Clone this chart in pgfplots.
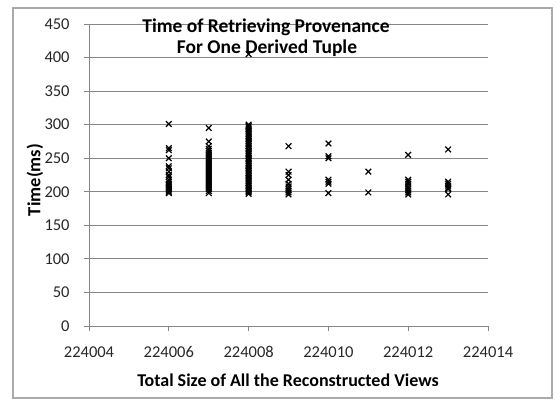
\documentclass[border=0pt]{standalone}
\usepackage{fontspec}
\setmainfont{Carlito}
\usepackage{pgfplots}
\pgfplotsset{compat=1.18}
\definecolor{gridgray}{RGB}{134,134,134}
\definecolor{framegray}{RGB}{170,170,170}

\begin{document}
\begin{tikzpicture}[x=1pt,y=1pt]
\path[use as bounding box] (0,0) rectangle (560,401);
\draw[framegray, line width=1.2pt] (13,3) rectangle (552,393);

\begin{axis}[
  at={(89pt,75pt)}, anchor=south west,
  scale only axis, width=399pt, height=302pt,
  xmin=224004, xmax=224014, ymin=0, ymax=450,
  xtick={224004,224006,224008,224010,224012,224014},
  ytick={0,50,...,450},
  scaled x ticks=false,
  xticklabel style={/pgf/number format/fixed, /pgf/number format/1000 sep={}, yshift=-12pt},
  yticklabel style={xshift=-11pt},
  /pgf/number format/assume math mode=true,
  ticklabel style={font=\fontsize{16.5}{19}\selectfont, text=black!85},
  axis x line*=bottom, axis y line*=left,
  axis line style={gridgray, line width=0.9pt},
  tick align=outside, major tick length=5pt,
  tick style={gridgray, line width=0.9pt},
  ymajorgrids, grid style={gridgray, line width=0.9pt},
  clip=false,
]
\addplot[only marks, mark=x, mark size=4pt, black, line width=1.2pt] coordinates {
(224006,301) (224006,265) (224006,262) (224006,250) (224006,238) (224006,235)
(224006,230) (224006,225) (224006,222) (224006,218) (224006,215) (224006,212)
(224006,210) (224006,208) (224006,206) (224006,204) (224006,202) (224006,200)
(224006,198)
(224007,295) (224007,275) (224007,268) (224007,264) (224007,261) (224007,258)
(224007,255) (224007,252) (224007,249) (224007,246) (224007,243) (224007,240)
(224007,237) (224007,234) (224007,231) (224007,228) (224007,225) (224007,222)
(224007,219) (224007,216) (224007,213) (224007,210) (224007,207) (224007,204)
(224007,201) (224007,198)
(224008,405) (224008,300) (224008,298) (224008,296) (224008,293) (224008,291)
(224008,288) (224008,286) (224008,283) (224008,281) (224008,278) (224008,276)
(224008,273) (224008,271) (224008,268) (224008,266) (224008,263) (224008,261)
(224008,258) (224008,256) (224008,253) (224008,251) (224008,248) (224008,246)
(224008,243) (224008,241) (224008,238) (224008,236) (224008,233) (224008,231)
(224008,228) (224008,226) (224008,223) (224008,221) (224008,218) (224008,216)
(224008,213) (224008,211) (224008,208) (224008,206) (224008,203) (224008,201)
(224008,199) (224008,197)
(224009,268) (224009,230) (224009,225) (224009,218) (224009,212) (224009,208)
(224009,205) (224009,202) (224009,199) (224009,196)
(224010,272) (224010,253) (224010,250) (224010,218) (224010,215) (224010,212)
(224010,198)
(224011,230) (224011,199)
(224012,255) (224012,218) (224012,215) (224012,212) (224012,208) (224012,205)
(224012,202) (224012,199) (224012,196)
(224013,263) (224013,215) (224013,212) (224013,209) (224013,206) (224013,204)
(224013,196)
};
\end{axis}

\node[font=\fontsize{19.5}{22}\selectfont\bfseries] at (266,374) {Time of Retrieving Provenance};
\node[font=\fontsize{19.5}{22}\selectfont\bfseries] at (267,353) {For One Derived Tuple};
\node[font=\fontsize{18.5}{22}\selectfont\bfseries, rotate=90] at (35,221) {Time(ms)};
\node[font=\fontsize{18}{22}\selectfont\bfseries] at (288,21) {Total Size of All the Reconstructed Views};
\end{tikzpicture}
\end{document}
